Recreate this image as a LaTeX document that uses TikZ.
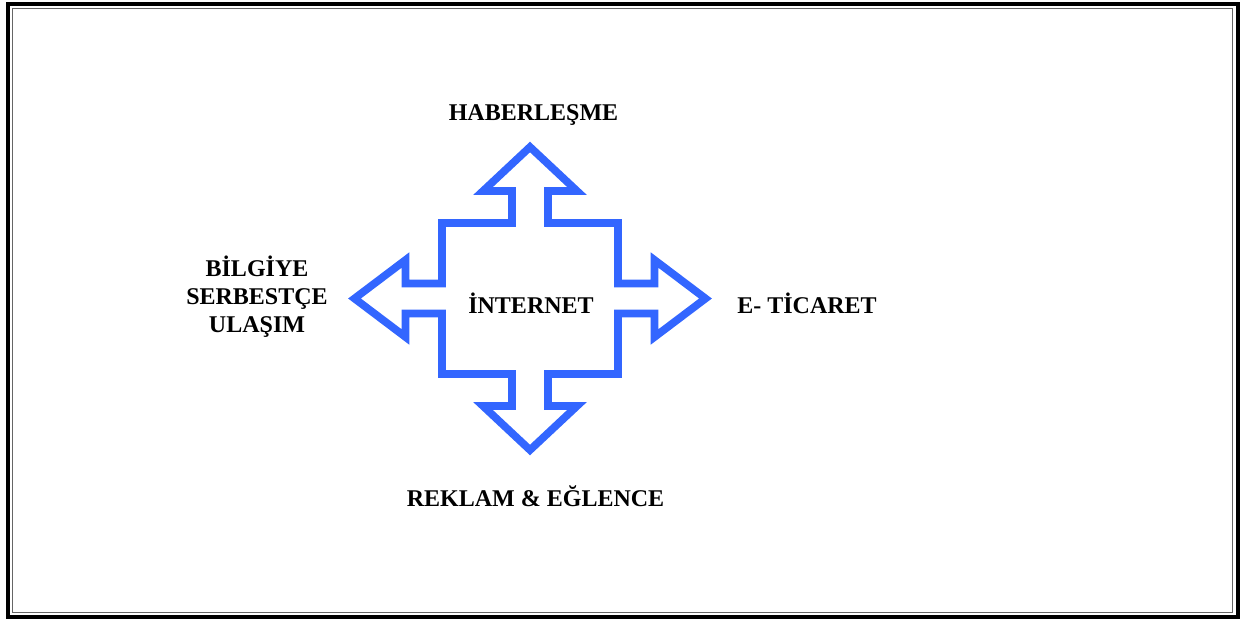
\documentclass[tikz,border=0pt]{standalone}
\usepackage{fontspec}
\setmainfont{Liberation Serif}
\usetikzlibrary{calc}
\usetikzlibrary{positioning}
\definecolor{netblue}{HTML}{3366FF}
\tikzset{lbl/.style={font=\bfseries\fontsize{24}{28}\selectfont, align=center, inner sep=0pt, anchor=base}}
\tikzset{cross/.style={draw=netblue, line width=7.7pt, line join=miter, miter limit=10}}
\tikzset{frame/.style={draw=black, line width=4.5pt}}

\begin{document}
\begin{tikzpicture}[x=1pt, y=-1pt]
\useasboundingbox (0,0) rectangle (1241,619);

% frame
\draw[frame] (8,4) rectangle (1238,617);
\draw[black!60, line width=1.5pt] (12.5,8.5) rectangle (1232.5,612.5);

\coordinate (C) at (530,298.5);

% four-way arrow
\draw[cross] ($ (C)+(0,-151.5) $) -- ($ (C)+(47,-107.5) $) -- ($ (C)+(18,-107.5) $)
  -- ($ (C)+(18,-75.5) $) -- ($ (C)+(88,-75.5) $) -- ($ (C)+(88,-15) $)
  -- ($ (C)+(124.5,-15) $) -- ($ (C)+(124.5,-38.5) $) -- ($ (C)+(175.5,0) $)
  -- ($ (C)+(124.5,38.5) $) -- ($ (C)+(124.5,15) $) -- ($ (C)+(88,15) $)
  -- ($ (C)+(88,75.5) $) -- ($ (C)+(18,75.5) $) -- ($ (C)+(18,107.5) $)
  -- ($ (C)+(47,107.5) $) -- ($ (C)+(0,151.5) $) -- ($ (C)+(-47,107.5) $)
  -- ($ (C)+(-18,107.5) $) -- ($ (C)+(-18,75.5) $) -- ($ (C)+(-88,75.5) $)
  -- ($ (C)+(-88,15) $) -- ($ (C)+(-124.5,15) $) -- ($ (C)+(-124.5,38.5) $)
  -- ($ (C)+(-175.5,0) $) -- ($ (C)+(-124.5,-38.5) $) -- ($ (C)+(-124.5,-15) $)
  -- ($ (C)+(-88,-15) $) -- ($ (C)+(-88,-75.5) $) -- ($ (C)+(-18,-75.5) $)
  -- ($ (C)+(-18,-107.5) $) -- ($ (C)+(-47,-107.5) $) -- cycle;

\node[lbl] (net) at (531,313) {İNTERNET};
\node[lbl] (hab) at (533.5,120.5) {HABERLEŞME};
\node[lbl] (tic) at (807,313) {E- TİCARET};
\node[lbl] (rek) at (535.5,506.5) {REKLAM \& EĞLENCE};
\node[lbl] (bil) at (257,332.5) {BİLGİYE\\SERBESTÇE\\ULAŞIM};

\end{tikzpicture}
\end{document}
